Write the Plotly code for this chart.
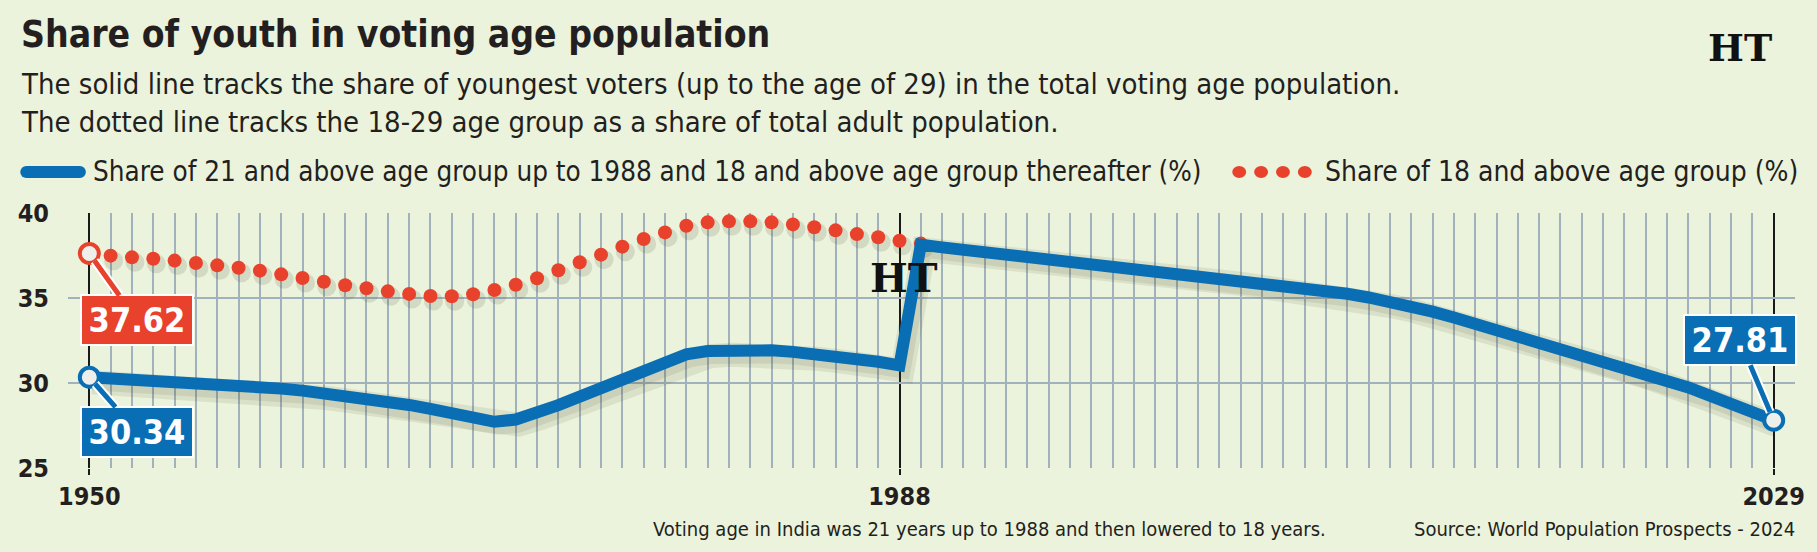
import plotly.graph_objects as go

# ---------------- data ----------------
years = list(range(1950, 2030))
blue_vals = [
    30.34, 30.28, 30.21, 30.15, 30.09, 30.02, 29.94, 29.86, 29.77, 29.67,
    29.55, 29.41, 29.25, 29.08, 28.90, 28.71, 28.48, 28.22, 27.95, 27.72,
    27.85, 28.22, 28.70, 29.20, 29.73, 30.25, 30.77, 31.26, 31.68, 31.88,
    31.95, 31.96, 31.92, 31.83, 31.72, 31.58, 31.42, 31.25, 31.04, 38.14,
    37.98, 37.84, 37.70, 37.56, 37.43, 37.30, 37.17, 37.04, 36.91, 36.78,
    36.65, 36.52, 36.39, 36.25, 36.11, 35.96, 35.80, 35.63, 35.45, 35.25,
    35.03, 34.80, 34.52, 34.20, 33.85, 33.48, 33.10, 32.72, 32.34, 31.98,
    31.64, 31.31, 30.97, 30.60, 30.20, 29.74, 29.26, 28.77, 28.29, 27.81,
]
red_years = list(range(1950, 1990))
red_vals = [
    37.62, 37.49, 37.39, 37.31, 37.20, 37.06, 36.92, 36.78, 36.61, 36.39,
    36.18, 35.96, 35.75, 35.57, 35.39, 35.24, 35.12, 35.10, 35.22, 35.47,
    35.78, 36.16, 36.63, 37.10, 37.55, 38.02, 38.47, 38.86, 39.25, 39.45,
    39.51, 39.51, 39.45, 39.33, 39.16, 38.98, 38.76, 38.57, 38.37, 38.20,
]
x_ticks = [1950, 1988, 2029]
y_ticks = [25, 30, 35, 40]
x_range = [1949, 2030]
y_range = [25, 40]

TITLE = "Share of youth in voting age population"
SUB1 = "The solid line tracks the share of youngest voters (up to the age of 29) in the total voting age population."
SUB2 = "The dotted line tracks the 18-29 age group as a share of total adult population."
LEG_BLUE = "Share of 21 and above age group up to 1988 and 18 and above age group thereafter (%)"
LEG_RED = "Share of 18 and above age group (%)"
NOTE = "Voting age in India was 21 years up to 1988 and then lowered to 18 years."
SOURCE = "Source: World Population Prospects - 2024"
LOGO = "HT"

# ---------------- style ----------------
W, H = 1817, 552
L, R, T, B = 68, 12, 213, 84
PW, PH = W - L - R, H - T - B
BG = "#EBF3DC"
GRID = "#A2B2BC"
BLUE = "#0A6EB4"
RED = "#E8412C"
INK = "#231F20"
NARROW = "Liberation Sans Narrow, Arial Narrow, DejaVu Sans Condensed, sans-serif"
SERIF = "DejaVu Serif, Liberation Serif, serif"


def px(x):
    return (x - L) / PW


def py(y):
    return (H - B - y) / PH


# shadow offset (pixels -> data units) used to shift the shadow axes
sx = 3 / (PW / (x_range[1] - x_range[0]))
sy = 5 / (PH / (y_range[1] - y_range[0]))
SHADOW = "rgba(70,70,40,0.10)"

fig = go.Figure()

# shadows (drawn on base axes with shifted ranges)
fig.add_trace(go.Scatter(x=years, y=blue_vals, mode="lines", xaxis="x", yaxis="y",
                         line=dict(color=SHADOW, width=24), hoverinfo="skip", showlegend=False))
fig.add_trace(go.Scatter(x=years, y=blue_vals, mode="lines", xaxis="x", yaxis="y",
                         line=dict(color=SHADOW, width=16), hoverinfo="skip", showlegend=False))
fig.add_trace(go.Scatter(x=red_years[1:], y=red_vals[1:], mode="markers", xaxis="x", yaxis="y",
                         marker=dict(color="rgba(70,70,40,0.14)", size=19, line=dict(width=0)),
                         hoverinfo="skip", showlegend=False))

# main series on overlay axes
fig.add_trace(go.Scatter(x=red_years[1:], y=red_vals[1:], mode="markers", xaxis="x2", yaxis="y2",
                         marker=dict(color=RED, size=14, line=dict(width=0)),
                         name=LEG_RED, showlegend=False))
fig.add_trace(go.Scatter(x=years, y=blue_vals, mode="lines", xaxis="x2", yaxis="y2",
                         line=dict(color=BLUE, width=12), name=LEG_BLUE, showlegend=False))
# end markers
fig.add_trace(go.Scatter(x=[red_years[0]], y=[red_vals[0]], mode="markers", xaxis="x2", yaxis="y2",
                         marker=dict(color="#EEEEEA", size=19, line=dict(color=RED, width=4)),
                         showlegend=False))
fig.add_trace(go.Scatter(x=[years[0], years[-1]], y=[blue_vals[0], blue_vals[-1]], mode="markers",
                         xaxis="x2", yaxis="y2",
                         marker=dict(color="#EEEEEA", size=19, line=dict(color=BLUE, width=4)),
                         showlegend=False))

annotations = []
shapes = []


def text_ann(txt, x, y, size, xanchor="left", bold=False, color=INK, family=NARROW):
    annotations.append(dict(
        text=f"<b>{txt}</b>" if bold else txt, xref="paper", yref="paper",
        x=px(x), y=py(y), xanchor=xanchor, yanchor="middle", showarrow=False,
        font=dict(family=family, size=size, color=color)))


text_ann(TITLE, 19, 34, 37, bold=True)
text_ann(SUB1, 19, 84, 29)
text_ann(SUB2, 19, 122, 29)
text_ann(LEG_BLUE, 91, 172, 27.6)
text_ann(LEG_RED, 1330, 172, 28)
text_ann(NOTE, 1335, 529, 20, xanchor="right")
text_ann(SOURCE, 1807, 529, 20, xanchor="right")
text_ann(LOGO, 1750, 47, 38, xanchor="center", bold=True, color="#111111", family=SERIF)
text_ann(LOGO, 909, 277, 40, xanchor="center", bold=True, color="#111111", family=SERIF)

# legend keys
shapes.append(dict(type="line", xref="paper", yref="paper", x0=px(26), x1=px(80), y0=py(172), y1=py(172),
                   line=dict(color=BLUE, width=12)))
for cx in (26, 80):
    shapes.append(dict(type="circle", xref="paper", yref="paper", x0=px(cx - 6), x1=px(cx + 6),
                       y0=py(178), y1=py(166), fillcolor=BLUE, line=dict(width=0)))
for cx in (1246, 1268, 1290, 1312):
    shapes.append(dict(type="circle", xref="paper", yref="paper", x0=px(cx - 7), x1=px(cx + 7),
                       y0=py(178), y1=py(166), fillcolor=RED, line=dict(width=0)))


def callout(x, y, color, ax, ay):
    label = f"<b>{y:.2f}</b>"
    common = dict(xref="x2", yref="y2", x=x, y=y, ax=ax, ay=ay, text=label,
                  showarrow=True, arrowhead=0, standoff=9, width=106, height=44,
                  font=dict(family=NARROW, size=34, color="white"), borderpad=2)
    annotations.append(dict(common, arrowwidth=9, arrowcolor="white", bgcolor="white",
                            bordercolor="white", borderwidth=2))
    annotations.append(dict(common, arrowwidth=5, arrowcolor=color, bgcolor=color,
                            bordercolor="white", borderwidth=2))


callout(red_years[0], red_vals[0], RED, 48, 67)
callout(years[0], blue_vals[0], BLUE, 48, 55)
callout(years[-1], blue_vals[-1], BLUE, -34, -80)

tick_font = dict(family=NARROW, size=25, color=INK)

fig.update_layout(
    width=W, height=H,
    margin=dict(l=L, r=R, t=T, b=B),
    paper_bgcolor=BG, plot_bgcolor=BG,
    showlegend=False,
    xaxis=dict(range=[x_range[0] - sx, x_range[1] - sx], visible=False, fixedrange=True),
    yaxis=dict(range=[y_range[0] + sy, y_range[1] + sy], visible=False, fixedrange=True),
    xaxis2=dict(overlaying="x", anchor="y2", side="bottom", range=x_range,
                tickmode="array", tickvals=x_ticks, ticktext=[f"<b>{v}</b>" for v in x_ticks],
                showgrid=True, gridcolor="#1A1A1A", gridwidth=1.5,
                ticks="outside", ticklen=6, tickwidth=1.5, tickcolor="#1A1A1A",
                tickfont=tick_font, zeroline=False, showline=False,
                minor=dict(tickmode="array", tickvals=years, showgrid=True,
                           gridcolor=GRID, gridwidth=1.5, ticks="")),
    yaxis2=dict(overlaying="y", anchor="x2", side="left", range=y_range,
                tickmode="array", tickvals=y_ticks, ticktext=[f"<b>{v}</b>" for v in y_ticks],
                showgrid=True, gridcolor=GRID, gridwidth=1.5,
                ticks="outside", ticklen=13, tickcolor="rgba(0,0,0,0)",
                tickfont=tick_font, zeroline=False, showline=False),
    annotations=annotations,
    shapes=shapes,
)

fig.write_html("out.html")
